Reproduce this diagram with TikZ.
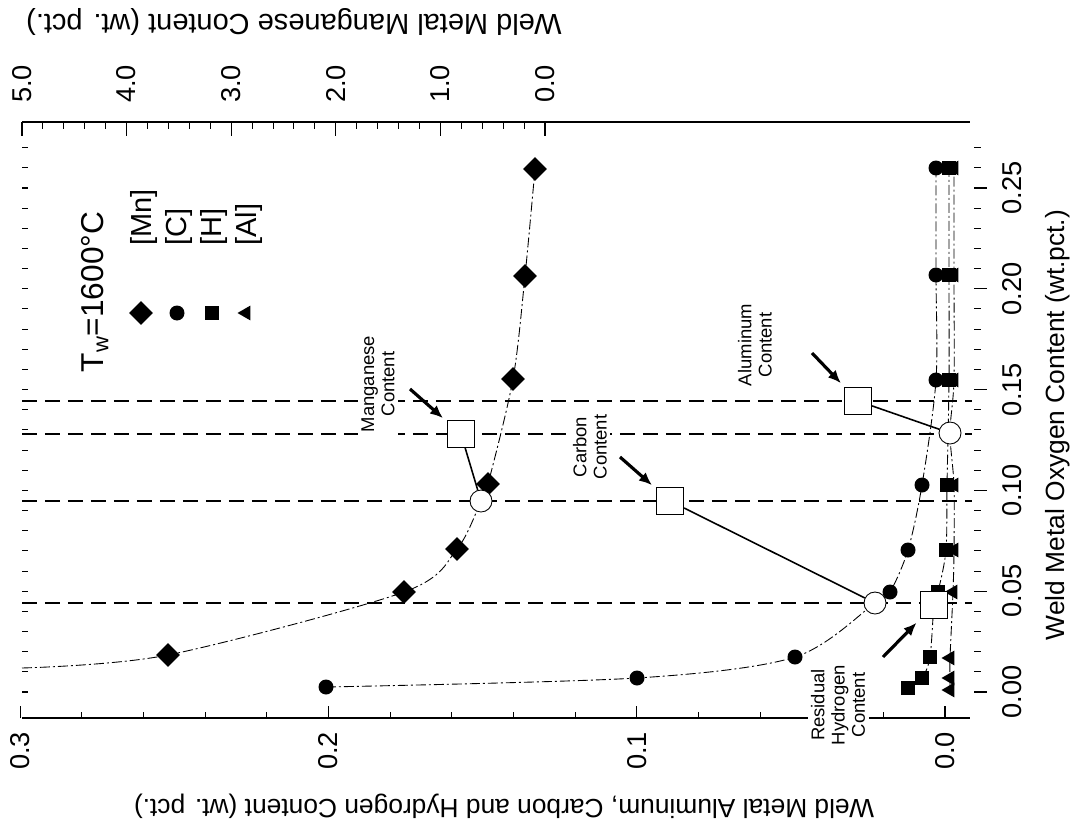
\documentclass[tikz,border=0pt]{standalone}
\usepackage{fontspec}
\setmainfont{Liberation Sans}
\usetikzlibrary{shapes.geometric, arrows.meta, positioning}

\tikzset{
  mnmark/.style={diamond, fill=black, inner sep=0pt, minimum size=0.48cm},
  cmark/.style={circle, fill=black, inner sep=0pt, minimum size=0.3cm},
  hmark/.style={rectangle, fill=black, inner sep=0pt, minimum size=0.27cm},
  almark/.style={regular polygon, regular polygon sides=3, shape border rotate=90, fill=black, inner sep=0pt, minimum size=0.34cm},
  ring/.style={circle, draw, fill=white, inner sep=0pt, minimum size=0.44cm, line width=0.5pt},
  predbox/.style={rectangle, draw, fill=white, inner sep=0pt, minimum size=0.54cm, line width=0.6pt},
  guide/.style={line width=1.3pt, dash pattern=on 0.3cm off 0.16cm},
  trend/.style={line width=0.5pt, dash pattern=on 0.2cm off 0.06cm on 0.04cm off 0.06cm},
  link/.style={line width=0.9pt},
  pointer/.style={line width=1.8pt, -{Latex[length=0.26cm, width=0.22cm]}, shorten >=3pt},
  note/.style={font=\fontsize{10.5}{11.5}\selectfont, align=center, rotate=90, fill=white, inner sep=2pt},
  ticklab/.style={font=\fontsize{15.5}{18}\selectfont, rotate=90},
  axtitle/.style={font=\fontsize{15}{18}\selectfont},
}

\begin{document}
\begin{tikzpicture}[x=0.02cm, y=-0.02cm]
  \useasboundingbox (0,0) rectangle (1079,835);

  % axes
  \draw[line width=0.8pt] (22,122) -- (970,122);
  \draw[line width=0.8pt] (22,718) -- (970,718);
  \foreach \k in {0,...,25} \draw[line width=0.6pt] ({545-20.92*\k},122) -- ++(0,7);
  \foreach \k in {0,...,5} {
    \draw[line width=0.6pt] ({545-104.6*\k},122) -- ++(0,14);
    \node[ticklab] (mnlab\k) at ({545-104.6*\k},84) {\k.0};
  }
  \foreach \k in {0,...,15} \draw[line width=0.6pt] ({945-61.66*\k},718) -- ++(0,-6);
  \foreach \k in {0,...,3} {
    \draw[line width=0.6pt] ({945-308.3*\k},718) -- ++(0,-12);
    \node[ticklab] (cLab\k) at ({945-308.3*\k},751) {0.\k};
  }
  \foreach \k in {0,...,27} {
    \draw[line width=0.6pt] (974,{692-20.16*\k}) -- ++(7,0);
    \draw[line width=0.6pt] (22,{692-20.16*\k}) -- ++(6,0);
  }
  \foreach \t [count=\k from 0] in {0.00,0.05,0.10,0.15,0.20,0.25} {
    \draw[line width=0.6pt] (974,{692-100.8*\k}) -- ++(13,0);
    \node[ticklab] (olab\k) at (1012,{692-100.8*\k}) {\t};
  }

  \node[axtitle, font=\fontsize{16.5}{18}\selectfont, rotate=180] (ttop) at (294,22) {Weld Metal Manganese Content (wt. pct.)};
  \node[axtitle, rotate=180] (tbot) at (504,806) {Weld Metal Aluminum, Carbon and Hydrogen Content (wt. pct.)};
  \node[axtitle, rotate=90] (tright) at (1058,425) {Weld Metal Oxygen Content (wt.pct.)};

  % guide lines
  \foreach \g in {401,434,501,603} \draw[guide] (22,\g) -- (972,\g);

  % data points
  \foreach \x/\y [count=\i] in {168/655, 404/592, 457/549, 488/484, 513/379, 525/276, 535/169}
    \coordinate (mn\i) at (\x,\y);
  \foreach \x/\y [count=\i] in {326/687, 637/678, 795/657, 890/592, 908/550, 922/485, 936/380, 936/275, 936/168}
    \coordinate (c\i) at (\x,\y);
  \foreach \x/\y [count=\i] in {908/688, 922/678, 930/657, 938/592, 946/550, 947/485, 949/380, 949/275, 949/168}
    \coordinate (h\i) at (\x,\y);
  \foreach \x/\y [count=\i] in {950/690, 950/678, 950/658, 953/592, 954/550, 954/485, 954/380, 954/275, 954/168}
    \coordinate (al\i) at (\x,\y);
  \coordinate (mnx) at (481,501);
  \coordinate (cx) at (875,603);
  \coordinate (hx) at (934,605);
  \coordinate (alx) at (950,433);
  \coordinate (mnedge) at (22,668);

  \draw[trend] plot[smooth] coordinates {(mnedge) (mn1) (mn2) (mn3) (mnx) (mn4) (mn5) (mn6) (mn7)};
  \draw[trend] plot[smooth] coordinates {(c1) (c2) (c3) (cx) (c4) (c5) (c6) (c7) (c8) (c9)};
  \draw[trend] plot[smooth] coordinates {(h1) (h2) (h3) (hx) (h4) (h5) (h6) (h7) (h8) (h9)};
  \draw[trend] plot[smooth] coordinates {(al1) (al2) (al3) (al4) (al5) (al6) (alx) (al7) (al8) (al9)};

  \foreach \i in {1,...,7} \node[mnmark] (dmn\i) at (mn\i) {};
  \foreach \i in {1,...,9} {
    \node[cmark] (dc\i) at (c\i) {};
    \node[hmark] (dh\i) at (h\i) {};
    \node[almark] (dal\i) at (al\i) {};
  }

  % predicted contents
  \node[ring] (rmn) at (mnx) {};
  \node[ring] (rc) at (cx) {};
  \node[ring] (ral) at (alx) {};
  \node[predbox] (bmn) at (461,434) {};
  \node[predbox] (bc) at (670,501) {};
  \node[predbox] (bal) at (858,401) {};
  \node[predbox] (bh) at (hx) {};
  \draw[link] (bmn) -- (rmn);
  \draw[link] (bc) -- (rc);
  \draw[link] (bal) -- (ral);

  % notes
  \node[note] (nmn) at (378,384) {Manganese\\Content};
  \node[note] (nc) at (590,447) {Carbon\\Content};
  \node[note] (nal) at (755,345) {Aluminum\\Content};
  \node[note] (nh) at (838,705) {Residual\\Hydrogen\\Content};
  \coordinate (amn) at (410,389);
  \coordinate (ac) at (620,457);
  \coordinate (aal) at (812,353);
  \coordinate (ah) at (883,657);
  \draw[pointer] (amn) -- (bmn);
  \draw[pointer] (ac) -- (bc);
  \draw[pointer] (aal) -- (bal);
  \draw[pointer] (ah) -- (bh);

  % legend
  \node[font=\fontsize{18}{20}\selectfont, rotate=90] (temp) at (95,292) {T\textsubscript{w}=1600°C};
  \node[mnmark] (kmn) at (141,313) {};
  \node[cmark] (kc) at (177,313) {};
  \node[hmark] (kh) at (212,313) {};
  \node[almark] (kal) at (246,313) {};
  \foreach \n/\x/\t in {lmn/144/{[Mn]}, lc/179/{[C]}, lh/214/{[H]}, lal/249/{[Al]}}
    \node[font=\fontsize{16.5}{18}\selectfont, rotate=90, anchor=west] (\n) at (\x,252) {\t};
\end{tikzpicture}
\end{document}
